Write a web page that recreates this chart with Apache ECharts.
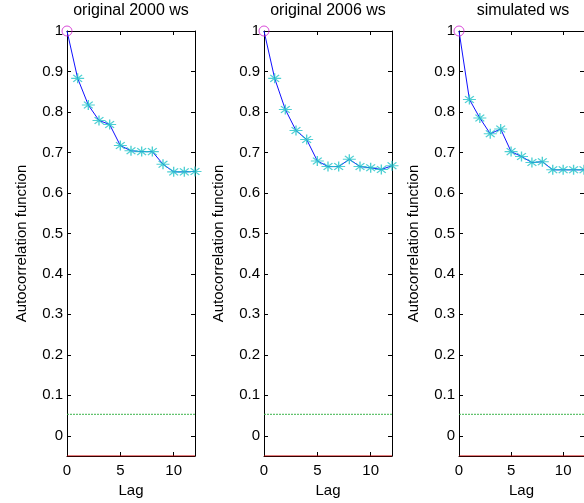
<!DOCTYPE html>
<html>
<head>
<meta charset="utf-8">
<script src="https://cdn.jsdelivr.net/npm/echarts@6/dist/echarts.min.js"></script>
<style>html,body{margin:0;padding:0;background:#fff;}#c{width:584px;height:503px;}</style>
</head>
<body>
<div id="c"></div>
<script>
const lags = [0,1,2,3,4,5,6,7,8,9,10,11,12];
const acf2000 = [1,0.883,0.817,0.779,0.769,0.717,0.704,0.702,0.702,0.671,0.652,0.652,0.653];
const acf2006 = [1,0.883,0.806,0.754,0.732,0.679,0.665,0.665,0.683,0.665,0.662,0.658,0.667];
const acfSim  = [1,0.831,0.785,0.746,0.758,0.702,0.690,0.675,0.677,0.657,0.657,0.657,0.657];
const titles = ['original 2000 ws','original 2006 ws','simulated ws'];
const upperBound = 0.053;
const lowerBound = -0.05;
const yTicks = [0,0.1,0.2,0.3,0.4,0.5,0.6,0.7,0.8,0.9,1];
const xTicks = [0,5,10];
const xRange = [0,12];
const yRange = [-0.05,1];

const allSeries = [acf2000, acf2006, acfSim];
const lefts = [67, 264, 459];
const W = 128, TOP = 31, H = 425;
const FONT = "'Liberation Sans', Arial, Helvetica, sans-serif";
const star = 'path://M0,5L10,5M5,0L5,10M1.6,1.6L8.4,8.4M1.6,8.4L8.4,1.6';

const grid = [], xAxis = [], yAxis = [], series = [], title = [];
allSeries.forEach((vals, i) => {
  grid.push({left: lefts[i], top: TOP, width: W, height: H, show: false});
  title.push({text: titles[i], left: lefts[i] + W/2, top: 3, padding: 0, textAlign: 'center',
    textStyle: {fontFamily: FONT, fontSize: 16, fontWeight: 'normal', color: '#000'}});
  const baseX = {gridIndex: i, type: 'value', min: xRange[0], max: xRange[1],
    splitLine: {show: false},
    axisLine: {show: true, onZero: false, lineStyle: {color: '#000', width: 1}}};
  xAxis.push(Object.assign({}, baseX, {position: 'bottom', name: 'Lag', nameLocation: 'middle', nameGap: 27,
    nameTextStyle: {fontFamily: FONT, fontSize: 15, color: '#000'},
    axisTick: {show: true, inside: true, length: 4, customValues: xTicks, lineStyle: {color: '#000'}},
    axisLabel: {show: true, margin: 7, customValues: xTicks, fontFamily: FONT, fontSize: 15, color: '#000'}}));
  xAxis.push(Object.assign({}, baseX, {position: 'top',
    axisTick: {show: true, inside: true, length: 4, customValues: xTicks, lineStyle: {color: '#000'}},
    axisLabel: {show: false}}));
  const baseY = {gridIndex: i, type: 'value', min: yRange[0], max: yRange[1],
    splitLine: {show: false},
    axisLine: {show: true, onZero: false, lineStyle: {color: '#000', width: 1}}};
  yAxis.push(Object.assign({}, baseY, {position: 'left', name: 'Autocorrelation function', nameLocation: 'middle', nameGap: 38,
    nameTextStyle: {fontFamily: FONT, fontSize: 15, color: '#000'},
    axisTick: {show: true, inside: true, length: 4, customValues: yTicks, lineStyle: {color: '#000'}},
    axisLabel: {show: true, margin: 4, customValues: yTicks, fontFamily: FONT, fontSize: 15, color: '#000'}}));
  yAxis.push(Object.assign({}, baseY, {position: 'right',
    axisTick: {show: true, inside: true, length: 4, customValues: yTicks, lineStyle: {color: '#000'}},
    axisLabel: {show: false}}));
  const xi = i*2, yi = i*2;
  series.push({type: 'line', xAxisIndex: xi, yAxisIndex: yi, data: xRange.map(x => [x, upperBound]),
    symbol: 'none', lineStyle: {color: '#3cb44b', width: 1, type: [2,1]}, silent: true, animation: false});
  series.push({type: 'line', xAxisIndex: xi, yAxisIndex: yi, data: xRange.map(x => [x, lowerBound]),
    symbol: 'none', lineStyle: {color: '#cc0000', width: 1.2}, silent: true, animation: false, z: 5});
  series.push({type: 'line', xAxisIndex: xi, yAxisIndex: yi, data: lags.map((l, k) => [l, vals[k]]),
    symbol: 'none', lineStyle: {color: '#1010ff', width: 1}, animation: false, z: 3});
  series.push({type: 'scatter', xAxisIndex: xi, yAxisIndex: yi, data: lags.slice(1).map((l, k) => [l, vals[k+1]]),
    symbol: star, symbolSize: [13, 10], itemStyle: {color: 'none', borderColor: '#22c4c8', borderWidth: 1.2},
    animation: false, z: 4});
  series.push({type: 'scatter', xAxisIndex: xi, yAxisIndex: yi, data: [[lags[0], vals[0]]], clip: false,
    symbol: 'circle', symbolSize: 10, itemStyle: {color: 'transparent', borderColor: '#d020d0', borderWidth: 1},
    animation: false, z: 6});
});

const chart = echarts.init(document.getElementById('c'), null, {renderer: 'canvas'});
chart.setOption({animation: false, backgroundColor: '#fff', title, grid, xAxis, yAxis, series});
</script>
</body>
</html>
